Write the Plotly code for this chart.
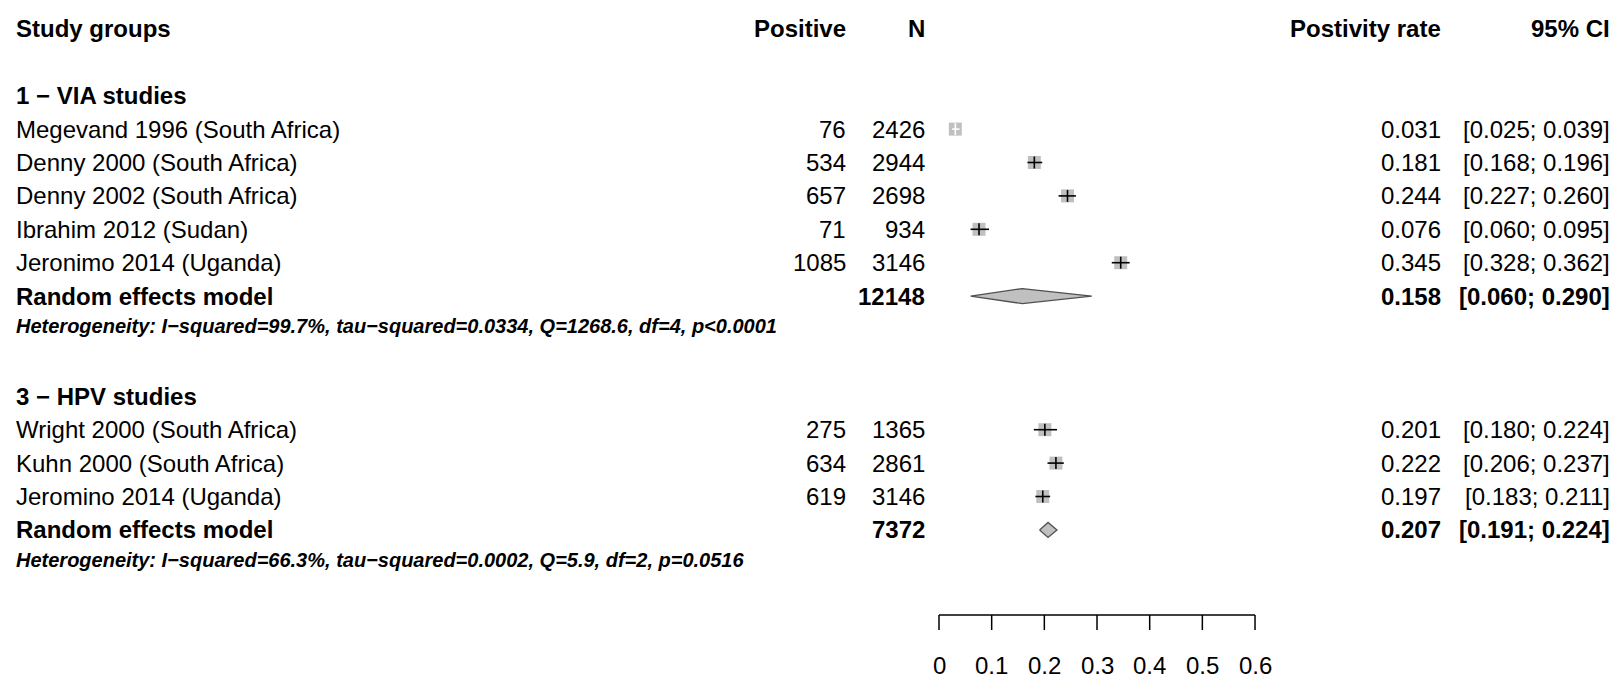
import plotly.graph_objects as go

# ---- study data ----
via_labels = ["Megevand 1996 (South Africa)", "Denny 2000 (South Africa)",
              "Denny 2002 (South Africa)", "Ibrahim 2012 (Sudan)",
              "Jeronimo 2014 (Uganda)"]
via_pos = [76, 534, 657, 71, 1085]
via_n = [2426, 2944, 2698, 934, 3146]
via_rate = [0.031, 0.181, 0.244, 0.076, 0.345]
via_lo = [0.025, 0.168, 0.227, 0.060, 0.328]
via_hi = [0.039, 0.196, 0.260, 0.095, 0.362]
via_total_n = 12148
via_pooled = [0.158, 0.060, 0.290]
via_het = "Heterogeneity: I\u2212squared=99.7%, tau\u2212squared=0.0334, Q=1268.6, df=4, p<0.0001"

hpv_labels = ["Wright 2000 (South Africa)", "Kuhn 2000 (South Africa)",
              "Jeromino 2014 (Uganda)"]
hpv_pos = [275, 634, 619]
hpv_n = [1365, 2861, 3146]
hpv_rate = [0.201, 0.222, 0.197]
hpv_lo = [0.180, 0.206, 0.183]
hpv_hi = [0.224, 0.237, 0.211]
hpv_total_n = 7372
hpv_pooled = [0.207, 0.191, 0.224]
hpv_het = "Heterogeneity: I\u2212squared=66.3%, tau\u2212squared=0.0002, Q=5.9, df=2, p=0.0516"

axis_ticks = [0, 0.1, 0.2, 0.3, 0.4, 0.5, 0.6]
axis_ticktext = ["0", "0.1", "0.2", "0.3", "0.4", "0.5", "0.6"]

# ---- page geometry ----
W, H = 1617, 678
ROW0, ROWH = 28.9, 33.4          # pixel centre of row 0 and row pitch
X0_PX, UNIT_PX = 939.0, 526.7    # pixel of rate 0 and pixels per unit rate
FONT = "Liberation Sans, Arial, sans-serif"
BOX_PX = 13
BOX_COL = "#C0C0C0"

x_lo = -X0_PX / UNIT_PX
x_hi = (W - X0_PX) / UNIT_PX
y_top = -ROW0 / ROWH
y_bot = (H - ROW0) / ROWH


def row_of(px):
    return (px - ROW0) / ROWH


COL_LABEL = 14
COL_POS = 848
COL_N = 927
COL_RATE = 1443
COL_CI = 1612

fig = go.Figure()
ann = []


def txt(px, row, s, anchor="left", bold=False, size=24, italic=False):
    if bold:
        s = "<b>" + s + "</b>"
    if italic:
        s = "<i>" + s + "</i>"
    ann.append(dict(x=px / W, xref="paper", y=row, yref="y", text=s,
                    showarrow=False, xanchor=anchor, yanchor="middle",
                    font=dict(family=FONT, size=size, color="black")))


# header
txt(COL_LABEL, 0, "Study groups", bold=True)
txt(COL_POS, 0, "Positive", anchor="right", bold=True)
txt(COL_N, 0, "N", anchor="right", bold=True)
txt(COL_RATE, 0, "Postivity rate", anchor="right", bold=True)
txt(COL_CI, 0, "95% CI", anchor="right", bold=True)

half_box = (BOX_PX / 2) / UNIT_PX
tick_h = 6 / ROWH
dia_h = 7.5 / ROWH


def group(start, title, labels, pos, n, rate, lo, hi, total_n, pooled, het):
    txt(COL_LABEL, start, title, bold=True)
    rows = [start + 1 + i for i in range(len(labels))]
    for r, lab, p, nn, v, a, b in zip(rows, labels, pos, n, rate, lo, hi):
        txt(COL_LABEL, r, lab)
        txt(COL_POS, r, str(p), anchor="right")
        txt(COL_N, r, str(nn), anchor="right")
        txt(COL_RATE, r, f"{v:.3f}", anchor="right")
        txt(COL_CI, r, f"[{a:.3f}; {b:.3f}]", anchor="right")
    # study boxes
    fig.add_trace(go.Scatter(x=rate, y=rows, mode="markers",
                             marker=dict(symbol="square", size=BOX_PX, color=BOX_COL,
                                         line=dict(width=0)),
                             hoverinfo="skip", showlegend=False))
    # confidence intervals (white when hidden inside the box)
    for r, v, a, b in zip(rows, rate, lo, hi):
        inside = (v - a) < half_box and (b - v) < half_box
        col = "white" if inside else "black"
        fig.add_trace(go.Scatter(x=[a, b, None, v, v], y=[r, r, None, r - tick_h, r + tick_h],
                                 mode="lines", line=dict(color=col, width=1.6),
                                 hoverinfo="skip", showlegend=False))
    # pooled estimate
    rr = start + 1 + len(labels)
    est, plo, phi = pooled
    txt(COL_LABEL, rr, "Random effects model", bold=True)
    txt(COL_N, rr, str(total_n), anchor="right", bold=True)
    txt(COL_RATE, rr, f"{est:.3f}", anchor="right", bold=True)
    txt(COL_CI, rr, f"[{plo:.3f}; {phi:.3f}]", anchor="right", bold=True)
    fig.add_trace(go.Scatter(x=[plo, est, phi, est, plo], y=[rr, rr - dia_h, rr, rr + dia_h, rr],
                             mode="lines", fill="toself", fillcolor=BOX_COL,
                             line=dict(color="#505050", width=1.3),
                             hoverinfo="skip", showlegend=False))
    txt(COL_LABEL, rr + 1 - 3.5 / ROWH, het, bold=True, italic=True, size=20)


group(2, "1 \u2212 VIA studies", via_labels, via_pos, via_n, via_rate, via_lo, via_hi,
      via_total_n, via_pooled, via_het)
group(11, "3 \u2212 HPV studies", hpv_labels, hpv_pos, hpv_n, hpv_rate, hpv_lo, hpv_hi,
      hpv_total_n, hpv_pooled, hpv_het)

# rate axis: baseline, tick marks and labels in data coordinates
ax_row = row_of(615)
tick_row = row_of(630)
lab_row = row_of(665)
ax_x = [axis_ticks[0], axis_ticks[-1]]
ax_y = [ax_row, ax_row]
for t in axis_ticks:
    ax_x += [None, t, t]
    ax_y += [None, ax_row, tick_row]
fig.add_trace(go.Scatter(x=ax_x, y=ax_y, mode="lines",
                         line=dict(color="black", width=1.5),
                         hoverinfo="skip", showlegend=False))
for t, s in zip(axis_ticks, axis_ticktext):
    ann.append(dict(x=t, xref="x", y=lab_row, yref="y", text=s, showarrow=False,
                    xanchor="center", yanchor="middle",
                    font=dict(family=FONT, size=24, color="black")))

fig.update_layout(
    width=W, height=H, autosize=False,
    margin=dict(l=0, r=0, t=0, b=0, pad=0),
    paper_bgcolor="white", plot_bgcolor="white",
    showlegend=False,
    annotations=ann,
    xaxis=dict(range=[x_lo, x_hi], visible=False, fixedrange=True),
    yaxis=dict(range=[y_bot, y_top], visible=False, fixedrange=True),
)

fig.write_html("out.html", post_script="document.body.style.margin='0';")
